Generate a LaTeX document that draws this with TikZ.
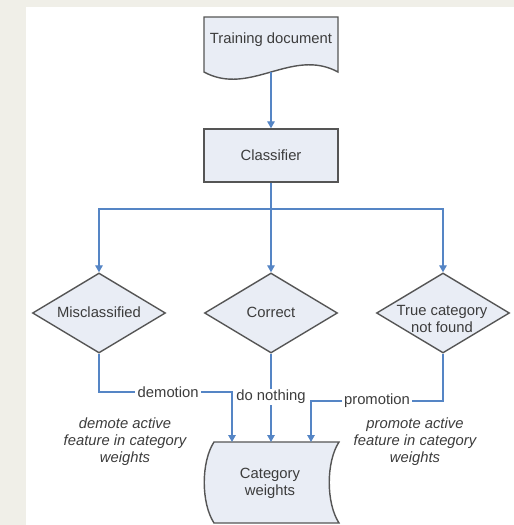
\documentclass[tikz,border=0pt]{standalone}
\usepackage{fontspec}
\setmainfont{Liberation Sans}
\usetikzlibrary{shapes.geometric,arrows.meta,calc}
\definecolor{pagebg}{HTML}{F0EFE8}
\definecolor{boxfill}{HTML}{E9EDF5}
\definecolor{boxline}{HTML}{555555}
\definecolor{flow}{HTML}{5585C5}
\definecolor{ink}{HTML}{3C3C3C}
\tikzset{
  shapeline/.style={draw=boxline, line width=1.4pt, fill=boxfill},
  procbox/.style={shapeline, rectangle, minimum width=134pt, minimum height=53pt, inner sep=0pt},
  decision/.style={shapeline, diamond, minimum width=133pt, minimum height=80pt, inner sep=0pt},
  txt/.style={text=ink, font=\fontsize{14.8}{17}\selectfont, align=center, inner sep=0pt},
  note/.style={txt, font=\fontsize{14.8}{17}\selectfont\itshape},
  conn/.style={draw=flow, line width=1.3pt},
  arr/.style={conn, -{Triangle[length=7pt,width=7.5pt]}},
  edgelabel/.style={txt, fill=white, inner xsep=2.5pt, inner ysep=1pt}
}
\begin{document}
\begin{tikzpicture}[x=1pt,y=-1pt]
  % page and white sheet
  \fill[pagebg] (0,0) rectangle (514,525);
  \fill[white] (26,7) rectangle (514,525);
  \useasboundingbox (0,0) rectangle (514,525);

  % training document (wavy bottom edge)
  \draw[shapeline] (204,17) -- (338,17) -- (338,72)
    .. controls (292,47) and (250,97) .. (204,72) -- cycle;
  \node[txt] (doc) at (271,40) {Training document};
  \coordinate (docb) at (271,72);

  % classifier
  \node[procbox] (cls) at (271,155.5) {};
  \node[txt] (clsT) at (cls) {Classifier};

  % decisions
  \node[decision] (d1) at (99,313) {};
  \node[decision] (d2) at (271,313) {};
  \node[decision] (d3) at (443,313) {};
  \node[txt] (d1T) at (99,312) {Misclassified};
  \node[txt] (d2T) at (271,312) {Correct};
  \node[txt] (d3T) at (442,319) {True category\\not found};

  % category weights (stored data)
  \draw[shapeline] (214,442) -- (339,442)
    .. controls (326,462) and (326,503) .. (339,523) -- (214,523)
    .. controls (201,503) and (201,462) .. (214,442) -- cycle;
  \node[txt] (cw) at (270,483) {Category\\weights};
  \coordinate (cwL) at (232,442);
  \coordinate (cwM) at (271,442);
  \coordinate (cwR) at (311,442);

  % routing levels
  \coordinate (split) at (271,209);
  \coordinate (lvlA) at (0,392);
  \coordinate (lvlB) at (0,401);

  % connectors
  \draw[arr] (docb) -- (cls.north);
  \draw[conn] (cls.south) -- (split);
  \draw[arr] (split) -| (d1.north);
  \draw[arr] (split) -- (d2.north);
  \draw[arr] (split) -| (d3.north);

  \draw[arr] (d1.south) -- (d1.south |- lvlA)
    -- node[edgelabel, pos=0.52] (lab1) {demotion} (cwL |- lvlA) -- (cwL);
  \draw[arr] (d2.south) -- node[edgelabel, pos=0.49] (lab2) {do nothing} (cwM);
  \draw[arr] (d3.south) -- (d3.south |- lvlB)
    -- node[edgelabel, pos=0.5] (lab3) {promotion} (cwR |- lvlB) -- (cwR);

  % side notes
  \node[note] (n1) at (125,442) {demote active\\feature in category\\weights};
  \node[note] (n2) at (415,442) {promote active\\feature in category\\weights};
\end{tikzpicture}
\end{document}
